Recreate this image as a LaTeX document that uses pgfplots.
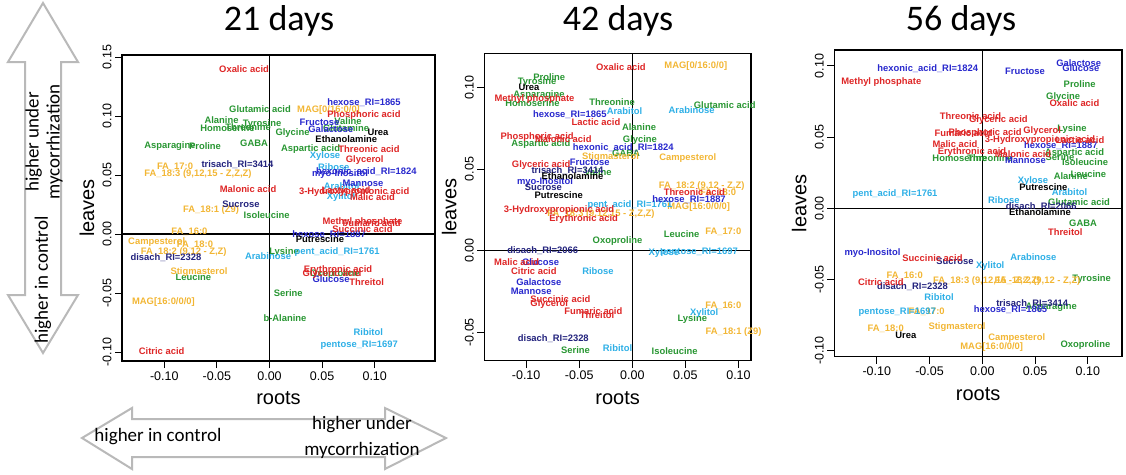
\documentclass[border=0pt]{standalone}
\usepackage{pgfplots}
\pgfplotsset{compat=1.18}
\usepackage{fontspec}
\setmainfont{Liberation Sans}
\newfontfamily\calibri{Carlito}
\definecolor{cred}{RGB}{222,38,38}
\definecolor{cgreen}{RGB}{40,150,50}
\definecolor{cblue}{RGB}{40,40,205}
\definecolor{cnavy}{RGB}{35,35,125}
\definecolor{ccyan}{RGB}{45,175,230}
\definecolor{corange}{RGB}{242,182,52}
\newcommand\labfont{\fontsize{9.4}{10}\selectfont\bfseries}
\newcommand\rl[1]{\rotatebox{90}{#1}}
\pgfplotsset{
  pca/.style={
    scale only axis,
    anchor=south west,
    axis line style={line width=1.3pt},
    tick style={line width=1pt, black},
    tick align=outside,
    major tick length=7pt,
    xtick pos=left, ytick pos=left,
    ticklabel style={font=\fontsize{12.5}{14}\selectfont},
    yticklabel style={anchor=east},
    xticklabel style={anchor=north},
    every axis x label/.style={at={(axis description cs:0.5,0)}, anchor=center, yshift=-37pt, font=\fontsize{20}{22}\selectfont},
    every axis y label/.style={at={(axis description cs:0,0.5)}, xshift=-35pt, rotate=90, anchor=center, font=\fontsize{20}{22}\selectfont},
    xlabel={roots}, ylabel={leaves},
    xtick={-0.1,-0.05,0,0.05,0.1},
    xticklabels={-0.10,-0.05,0.00,0.05,0.10},
    clip=false,
  },
  lab/.style={only marks, mark=*, mark size=0pt, mark options={draw=none, fill=none},
    nodes near coords, point meta=explicit symbolic,
    every node near coord/.append style={anchor=center, inner sep=0pt, text=#1, font=\labfont}},
}
\begin{document}
\begin{tikzpicture}
\path[use as bounding box] (0pt,0pt) rectangle (1126pt,-474pt);
% ---------- arrows ----------
\draw[gray!55, line width=2pt, fill=white, line join=miter]
 (43pt,-3pt) -- (78pt,-62pt) -- (61pt,-62pt) -- (61pt,-295pt) -- (78pt,-295pt) -- (43pt,-353pt)
 -- (8pt,-295pt) -- (25pt,-295pt) -- (25pt,-62pt) -- (8pt,-62pt) -- cycle;
\draw[gray!55, line width=2pt, fill=white, line join=miter]
 (82pt,-438pt) -- (132pt,-408pt) -- (132pt,-419pt) -- (385pt,-419pt) -- (385pt,-408pt) -- (446pt,-438pt)
 -- (385pt,-469pt) -- (385pt,-457pt) -- (132pt,-457pt) -- (132pt,-469pt) -- cycle;
\node[rotate=90, font=\calibri\fontsize{19}{21}\selectfont, align=center] at (44pt,-142pt) {higher under\\mycorrhization};
\node[rotate=90, font=\calibri\fontsize{19}{21}\selectfont] at (43pt,-280pt) {higher in control};
\node[font=\calibri\fontsize{19}{21}\selectfont] at (158pt,-437pt) {higher in control};
\node[font=\calibri\fontsize{19}{26}\selectfont, align=center] at (362pt,-437pt) {higher under\\mycorrhization};
% ---------- titles ----------
\node[font=\calibri\fontsize{36}{38}\selectfont] at (279pt,-21pt) {21 days};
\node[font=\calibri\fontsize{36}{38}\selectfont] at (618pt,-21pt) {42 days};
\node[font=\calibri\fontsize{36}{38}\selectfont] at (961pt,-21pt) {56 days};

% ================= 21 days =================
\begin{axis}[pca, at={(122pt,-361pt)}, width=313pt, height=306pt,
  xmin=-0.1402, xmax=0.1573, ymin=-0.1076, ymax=0.1517,
  ytick={-0.1,-0.05,0,0.05,0.1,0.15},
  yticklabels={\rl{-0.10},\rl{-0.05},\rl{0.00},\rl{0.05},\rl{0.10},\rl{0.15}}]
\draw[line width=1.3pt] (axis cs:0,-0.1076) -- (axis cs:0,0.1517);
\draw[line width=1.3pt] (axis cs:-0.1402,0) -- (axis cs:0.1573,0);
\addplot[lab=cgreen] table[meta=l] {
x y l
-0.0090 0.1059 {Glutamic acid}
-0.0456 0.0966 {Alanine}
-0.0071 0.0932 {Tyrosine}
-0.0204 0.0907 {Threonine}
-0.0399 0.0896 {Homoserine}
-0.0946 0.0748 {Asparagine}
-0.0613 0.0745 {Proline}
-0.0147 0.0768 {GABA}
0.0746 0.0960 {Valine}
0.0219 0.0859 {Glycine}
0.0727 0.0898 {Glutamine}
0.0390 0.0720 {Aspartic acid}
-0.0027 0.0161 {Isoleucine}
-0.0724 -0.0362 {Leucine}
0.0138 -0.0150 {Lysine}
0.0620 -0.0339 {Oxoproline}
0.0179 -0.0503 {Serine}
0.0147 -0.0714 {b-Alanine}
};
\addplot[lab=corange] table[meta=l] {
x y l
0.0561 0.1051 {MAG[0/16:0/0]}
-0.0898 0.0568 {FA\_17:0}
-0.0680 0.0506 {FA\_18:3 (9,12,15 - Z,Z,Z)}
-0.0556 0.0203 {FA\_18:1 (Z9)}
-0.0762 0.0017 {FA\_16:0}
-0.1072 -0.0070 {Campesterol}
-0.0708 -0.0093 {FA\_18:0}
-0.0815 -0.0155 {FA\_18:2 (9,12 - Z,Z)}
-0.0670 -0.0319 {Stigmasterol}
-0.1008 -0.0579 {MAG[16:0/0/0]}
};
\addplot[lab=ccyan] table[meta=l] {
x y l
0.0528 0.0664 {Xylose}
0.0611 0.0571 {Ribose}
0.0686 0.0410 {Arabitol}
0.0680 0.0311 {Xylitol}
-0.0014 -0.0184 {Arabinose}
0.0642 -0.0150 {pent\_acid\_RI=1761}
0.0939 -0.0828 {Ribitol}
0.0853 -0.0941 {pentose\_RI=1697}
};
\addplot[lab=cblue] table[meta=l] {
x y l
0.0898 0.1113 {hexose\_RI=1865}
0.0475 0.0949 {Fructose}
0.0583 0.0887 {Galactose}
0.0920 0.0525 {hexonic\_acid\_RI=1824}
0.0670 0.0506 {myo-Inositol}
0.0889 0.0430 {Mannose}
0.0566 -0.0008 {hexose\_RI=1887}
0.0585 -0.0381 {Glucose}
};
\addplot[lab=cnavy] table[meta=l] {
x y l
-0.0304 0.0591 {trisach\_RI=3414}
-0.0271 0.0252 {Sucrose}
-0.0984 -0.0198 {disach\_RI=2328}
};
\addplot[lab=black] table[meta=l] {
x y l
0.1031 0.0862 {Urea}
0.0730 0.0803 {Ethanolamine}
0.0480 -0.0045 {Putrescine}
};
\addplot[lab=cred] table[meta=l] {
x y l
-0.0242 0.1398 {Oxalic acid}
0.0898 0.1006 {Phosphoric acid}
0.0946 0.0720 {Threonic acid}
0.0905 0.0627 {Glycerol}
-0.0204 0.0381 {Malonic acid}
0.0805 0.0353 {3-Hydroxypropionic acid}
0.0727 0.0373 {Lactic acid}
0.0979 0.0311 {Malic acid}
0.0884 0.0104 {Methyl phosphate}
0.0971 0.0091 {Fumaric acid}
0.0884 0.0040 {Succinic acid}
0.0651 -0.0305 {Erythronic acid}
0.0594 -0.0339 {Glyceric acid}
0.0924 -0.0410 {Threitol}
-0.1025 -0.0992 {Citric acid}
};
\end{axis}

% ================= 42 days =================
\begin{axis}[pca, at={(484.3pt,-360.7pt)}, width=266.7pt, height=307.4pt,
  xmin=-0.1394, xmax=0.1118, ymin=-0.0674, ymax=0.1210,
  ytick={-0.05,0,0.05,0.1},
  yticklabels={\rl{-0.05},\rl{0.00},\rl{0.05},\rl{0.10}}]
\draw[line width=1.3pt] (axis cs:0,-0.0674) -- (axis cs:0,0.1210);
\draw[line width=1.3pt] (axis cs:-0.1394,0) -- (axis cs:0.1118,0);
\addplot[lab=cgreen] table[meta=l] {
x y l
-0.0782 0.1063 {Proline}
-0.0897 0.1032 {Tyrosine}
-0.0879 0.0954 {Asparagine}
-0.0940 0.0903 {Homoserine}
-0.0191 0.0909 {Threonine}
0.0063 0.0756 {Alanine}
-0.0862 0.0652 {Aspartic acid}
0.0072 0.0678 {Glycine}
-0.0059 0.0600 {GABA}
-0.0323 0.0482 {Valine}
0.0870 0.0893 {Glutamic acid}
-0.0139 0.0061 {Oxoproline}
0.0465 0.0102 {Leucine}
0.0565 -0.0419 {Lysine}
-0.0535 -0.0608 {Serine}
0.0399 -0.0613 {Isoleucine}
};
\addplot[lab=corange] table[meta=l] {
x y l
0.0598 0.1132 {MAG[0/16:0/0]}
-0.0205 0.0576 {Stigmasterol}
0.0523 0.0570 {Campesterol}
-0.0295 0.0225 {FA\_18:3 (9,12,15 - Z,Z,Z)}
0.0653 0.0396 {FA\_18:2 (9,12 - Z,Z)}
0.0808 0.0358 {FA\_18:0}
0.0625 0.0266 {MAG[16:0/0/0]}
0.0857 0.0116 {FA\_17:0}
0.0857 -0.0339 {FA\_16:0}
0.0953 -0.0500 {FA\_18:1 (Z9)}
};
\addplot[lab=ccyan] table[meta=l] {
x y l
-0.0073 0.0856 {Arabitol}
0.0559 0.0860 {Arabinose}
-0.0022 0.0280 {pent\_acid\_RI=1761}
-0.0323 -0.0123 {Ribose}
0.0297 -0.0016 {Xylose}
0.0630 -0.0010 {pentose\_RI=1697}
0.0677 -0.0380 {Xylitol}
-0.0139 -0.0598 {Ribitol}
};
\addplot[lab=cblue] table[meta=l] {
x y l
-0.0589 0.0836 {hexose\_RI=1865}
-0.0085 0.0631 {hexonic\_acid\_RI=1824}
-0.0401 0.0542 {Fructose}
-0.0822 0.0419 {myo-Inositol}
0.0534 0.0315 {hexose\_RI=1887}
-0.0864 -0.0067 {Glucose}
-0.0881 -0.0190 {Galactose}
-0.0952 -0.0247 {Mannose}
};
\addplot[lab=cnavy] table[meta=l] {
x y l
-0.0610 0.0488 {trisach\_RI=3414}
-0.0838 0.0386 {Sucrose}
-0.0844 0.0000 {disach\_RI=2066}
-0.0744 -0.0537 {disach\_RI=2328}
};
\addplot[lab=black] table[meta=l] {
x y l
-0.0973 0.0999 {Urea}
-0.0563 0.0460 {Ethanolamine}
-0.0693 0.0341 {Putrescine}
};
\addplot[lab=cred] table[meta=l] {
x y l
-0.0108 0.1127 {Oxalic acid}
-0.0921 0.0930 {Methyl phosphate}
-0.0342 0.0787 {Lactic acid}
-0.0897 0.0695 {Phosphoric acid}
-0.0650 0.0684 {Malonic acid}
-0.0858 0.0525 {Glyceric acid}
-0.0690 0.0249 {3-Hydroxypropionic acid}
-0.0458 0.0192 {Erythronic acid}
0.0584 0.0358 {Threonic acid}
-0.1089 -0.0071 {Malic acid}
-0.0927 -0.0123 {Citric acid}
-0.0678 -0.0296 {Succinic acid}
-0.0782 -0.0329 {Glycerol}
-0.0367 -0.0369 {Fumaric acid}
-0.0332 -0.0394 {Threitol}
};
\end{axis}

% ================= 56 days =================
\begin{axis}[pca, at={(834.3pt,-356.7pt)}, width=287.7pt, height=306.7pt,
  xmin=-0.1402, xmax=0.1323, ymin=-0.1042, ymax=0.1112,
  ytick={-0.1,-0.05,0,0.05,0.1},
  yticklabels={\rl{-0.10},\rl{-0.05},\rl{0.00},\rl{0.05},\rl{0.10}}]
\draw[line width=1.3pt] (axis cs:0,-0.1042) -- (axis cs:0,0.1112);
\draw[line width=1.3pt] (axis cs:-0.1402,0) -- (axis cs:0.1323,0);
\addplot[lab=cgreen] table[meta=l] {
x y l
0.0922 0.0871 {Proline}
0.0766 0.0784 {Glycine}
0.0849 0.0555 {Lysine}
-0.0215 0.0355 {Homoserine}
0.0073 0.0353 {Threonine}
0.0873 0.0386 {Aspartic acid}
0.0736 0.0360 {Serine}
0.0973 0.0327 {Isoleucine}
0.1004 0.0239 {Leucine}
0.0838 0.0227 {Alanine}
0.0916 0.0046 {Glutamic acid}
0.0954 -0.0105 {GABA}
0.1036 -0.0496 {Tyrosine}
0.0652 -0.0695 {Asparagine}
0.0977 -0.0960 {Oxoproline}
};
\addplot[lab=corange] table[meta=l] {
x y l
0.0523 -0.0511 {FA\_18:2 (9,12 - Z,Z)}
0.0042 -0.0511 {FA\_18:3 (9,12,15 - Z,Z,Z)}
-0.0735 -0.0475 {FA\_16:0}
-0.0527 -0.0730 {FA\_17:0}
-0.0915 -0.0843 {FA\_18:0}
-0.0240 -0.0831 {Stigmasterol}
0.0326 -0.0909 {Campesterol}
0.0089 -0.0972 {MAG[16:0/0/0]}
};
\addplot[lab=ccyan] table[meta=l] {
x y l
-0.0827 0.0098 {pent\_acid\_RI=1761}
0.0480 0.0194 {Xylose}
0.0826 0.0114 {Arabitol}
0.0204 0.0058 {Ribose}
0.0483 -0.0344 {Arabinose}
0.0075 -0.0403 {Xylitol}
-0.0410 -0.0625 {Ribitol}
-0.0806 -0.0730 {pentose\_RI=1697}
};
\addplot[lab=cblue] table[meta=l] {
x y l
-0.0517 0.0978 {hexonic\_acid\_RI=1824}
0.0404 0.0959 {Fructose}
0.0913 0.1018 {Galactose}
0.0933 0.0987 {Glucose}
0.0743 0.0437 {hexose\_RI=1887}
0.0409 0.0334 {Mannose}
0.0267 -0.0709 {hexose\_RI=1865}
-0.1040 -0.0316 {myo-Inositol}
};
\addplot[lab=cnavy] table[meta=l] {
x y l
0.0558 0.0011 {disach\_RI=2066}
-0.0259 -0.0370 {Sucrose}
-0.0661 -0.0551 {disach\_RI=2328}
0.0473 -0.0672 {trisach\_RI=3414}
};
\addplot[lab=black] table[meta=l] {
x y l
0.0578 0.0152 {Putrescine}
0.0546 -0.0028 {Ethanolamine}
-0.0724 -0.0895 {Urea}
};
\addplot[lab=cred] table[meta=l] {
x y l
-0.0957 0.0889 {Methyl phosphate}
0.0873 0.0737 {Oxalic acid}
-0.0112 0.0650 {Threonic acid}
0.0152 0.0620 {Glyceric acid}
-0.0178 0.0527 {Fumaric acid}
0.0026 0.0527 {Phosphoric acid}
0.0567 0.0545 {Glycerol}
-0.0259 0.0449 {Malic acid}
0.0546 0.0480 {3-Hydroxypropionic acid}
0.0925 0.0480 {Lactic acid}
-0.0098 0.0393 {Erythronic acid}
0.0385 0.0381 {Malonic acid}
0.0786 -0.0166 {Threitol}
-0.0472 -0.0351 {Succinic acid}
-0.0961 -0.0520 {Citric acid}
};
\end{axis}
\end{tikzpicture}
\end{document}
